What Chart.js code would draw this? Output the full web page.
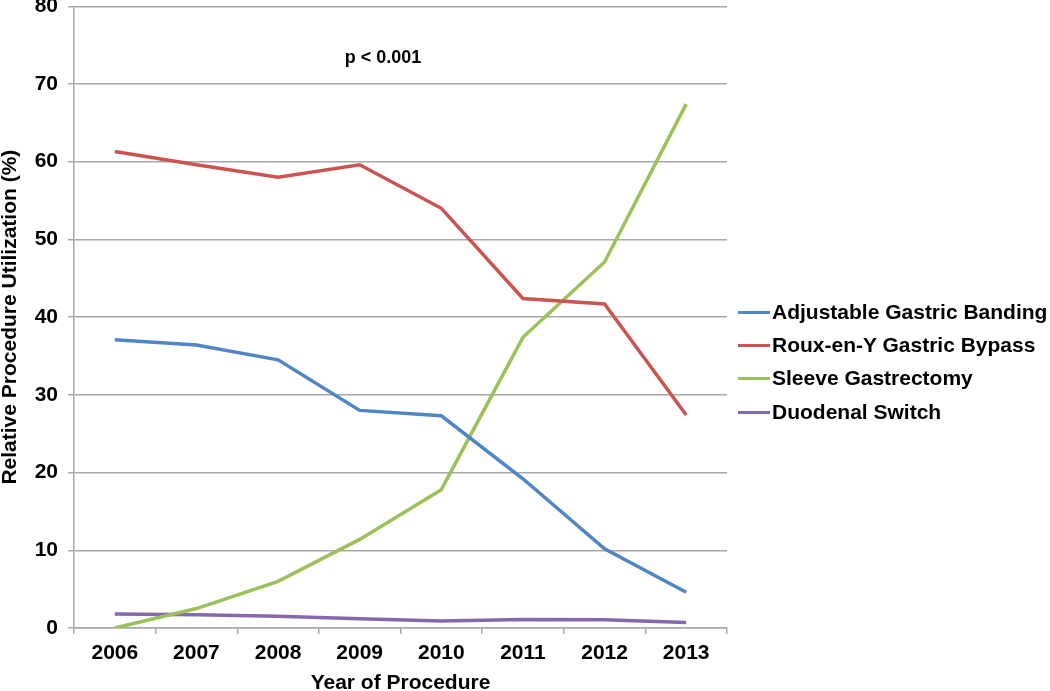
<!DOCTYPE html>
<html>
  <head>
    <title>Relative Procedure Utilization</title>
    <script src="https://cdn.jsdelivr.net/npm/chart.js"></script>
    <style>
      body { margin: 0; background: #fff; font-family: "Liberation Sans", Arial, sans-serif; overflow: hidden; }
      #wrap { position: relative; width: 1050px; height: 691px; overflow: hidden; }
      /* canvas nudged up so the plot top lands where the original has it */
      #myChart { position: absolute; left: 0; top: -9px; }
      #legend { position: absolute; left: 738px; top: 0; }
      .item { position: absolute; left: 0; width: 320px; height: 24px; white-space: nowrap; }
      .item span.sw { position: absolute; left: 0; top: 11px; width: 32px; height: 3px; }
      .item span.tx { position: absolute; left: 34px; top: 0; font-weight: bold; font-size: 21px; line-height: 24px; color: #000; }
    </style>
  </head>
  <body>
    <div id="wrap">
      <canvas id="myChart" width="1050" height="700"></canvas>
      <div id="legend"></div>
    </div>

    <script>
      const years = ["2006", "2007", "2008", "2009", "2010", "2011", "2012", "2013"];
      const seriesNames = ["Adjustable Gastric Banding", "Roux-en-Y Gastric Bypass", "Sleeve Gastrectomy", "Duodenal Switch"];
      const banding = [37.1, 36.4, 34.5, 28.0, 27.3, 19.2, 10.2, 4.6];
      const bypass = [61.3, 59.6, 58.0, 59.6, 54.0, 42.4, 41.7, 27.4];
      const sleeve = [0, 2.5, 6.0, 11.4, 17.8, 37.4, 47.1, 67.4];
      const duodenal = [1.8, 1.7, 1.5, 1.2, 0.9, 1.1, 1.05, 0.7];
      const yTicks = [0, 10, 20, 30, 40, 50, 60, 70, 80];
      const colors = ["#4f86c6", "#cb5450", "#9bc15b", "#8668ad"];

      const seriesValues = [banding, bypass, sleeve, duodenal];
      const gridGray = "#a8a8a8";
      const boldFont = (size, lh) => ({ family: "'Liberation Sans', Arial, sans-serif", size: size, weight: "bold", lineHeight: lh });

      // p-value note inside the plot
      const pNote = {
        id: "pNote",
        afterDraw(chart) {
          const ctx = chart.ctx;
          ctx.save();
          ctx.font = "bold 18px 'Liberation Sans', Arial, sans-serif";
          ctx.fillStyle = "#000";
          ctx.textAlign = "center";
          ctx.textBaseline = "middle";
          ctx.fillText("p < 0.001", 383, 67);
          ctx.restore();
        }
      };

      const ctx = document.getElementById("myChart").getContext("2d");
      const myChart = new Chart(ctx, {
        type: "line",
        data: {
          labels: years,
          datasets: seriesValues.map((vals, i) => ({
            label: seriesNames[i],
            data: vals,
            borderColor: colors[i],
            backgroundColor: colors[i],
            borderWidth: 3.5,
            pointRadius: 0,
            tension: 0,
            fill: false
          }))
        },
        options: {
          responsive: false,
          animation: false,
          layout: { padding: { left: 0, top: 0, right: 323, bottom: 0 } },
          plugins: {
            legend: { display: false },
            tooltip: { enabled: false }
          },
          scales: {
            x: {
              offset: true,
              grid: { offset: true, drawOnChartArea: false, drawTicks: true, tickLength: 6, color: gridGray, lineWidth: 1.5 },
              border: { color: gridGray, width: 1.5 },
              ticks: { color: "#000", font: boldFont(21, 1.2), padding: 7, maxRotation: 0 },
              title: { display: true, text: "Year of Procedure", color: "#000", font: boldFont(21, 0.76), padding: 0 },
              afterFit(s) { s.height = 63; }
            },
            y: {
              min: 0,
              max: 80,
              afterBuildTicks(s) { s.ticks = yTicks.map(v => ({ value: v })); },
              grid: { color: gridGray, lineWidth: 1.5, tickLength: 6 },
              border: { color: gridGray, width: 1.5 },
              ticks: { color: "#000", font: boldFont(21, 0.5), padding: 10 },
              title: { display: true, text: "Relative Procedure Utilization (%)", color: "#000", font: boldFont(21, 1), padding: 0 },
              afterFit(s) { s.width = 74; }
            }
          }
        },
        plugins: [pNote]
      });

      // legend built from the series names and colours
      const legendTops = [312, 345, 378, 412];
      const legend = document.getElementById("legend");
      seriesNames.forEach((name, i) => {
        const item = document.createElement("div");
        item.className = "item";
        item.style.top = (legendTops[i] - 12) + "px";
        item.innerHTML = '<span class="sw" style="background:' + colors[i] + '"></span><span class="tx">' + name + "</span>";
        legend.appendChild(item);
      });
    </script>
  </body>
</html>
